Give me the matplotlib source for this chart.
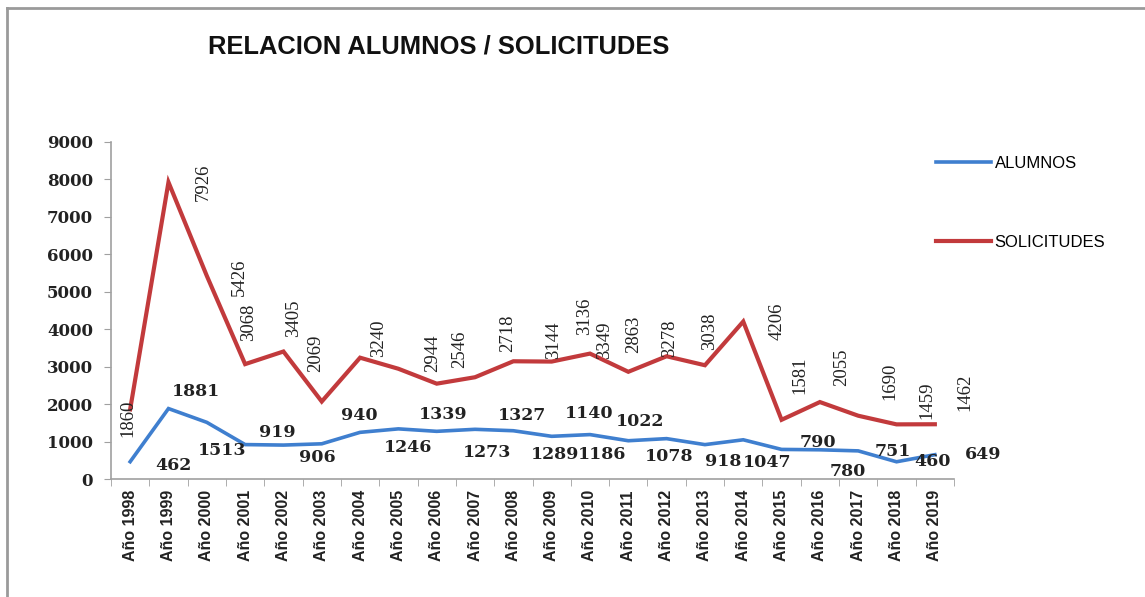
import numpy as np
import matplotlib
matplotlib.use("Agg")
import matplotlib.pyplot as plt
from matplotlib.lines import Line2D

years = list(range(1998, 2020))
tick_labels = ["Año %d" % y for y in years]
alumnos = [462, 1881, 1513, 919, 906, 940, 1246, 1339, 1273, 1327, 1289,
           1140, 1186, 1022, 1078, 918, 1047, 790, 780, 751, 460, 649]
solicitudes = [1860, 7926, 5426, 3068, 3405, 2069, 3240, 2944, 2546, 2718, 3144,
               3136, 3349, 2863, 3278, 3038, 4206, 1581, 2055, 1690, 1459, 1462]

# where each value label sits, in pixels from its point (as in the original sheet)
alu_off = [(43, -4), (28, 17), (15, -28), (32, 12), (34, -12), (38, 28), (48, -15),
           (45, 14), (50, -21), (47, 14), (42, -24), (38, 23), (12, -20), (12, 19),
           (3, -18), (18, -17), (24, -23), (36, 7), (28, -22), (35, -1), (36, 0), (48, 0)]
sol_off = [(-2, -9), (35, 0), (33, -1), (3, 42), (10, 33), (-6, 48), (18, 19),
           (34, 16), (23, 34), (33, 44), (40, 21), (33, 45), (15, 13), (5, 37),
           (3, 18), (5, 34), (34, 0), (18, 45), (22, 35), (32, 34), (30, 24), (30, 32)]

blue = "#3f7fcf"
red = "#c23a3c"
num_font = "DejaVu Serif"

fig = plt.figure(figsize=(11.45, 5.97), dpi=100)
ax = fig.add_axes([111/1145, 1-479/597, 843/1145, 337/597])

x = np.arange(len(years))
ax.plot(x, alumnos, color=blue, lw=2.6, label="ALUMNOS", solid_joinstyle="miter")
ax.plot(x, solicitudes, color=red, lw=3.0, label="SOLICITUDES", solid_joinstyle="miter")

for i, v in enumerate(alumnos):
    ax.annotate(str(v), (x[i], v), xytext=alu_off[i], textcoords="offset pixels",
                ha="center", va="center", fontsize=12.5, fontweight="bold",
                family=num_font, color="#222222")
for i, v in enumerate(solicitudes):
    ax.annotate(str(v), (x[i], v), xytext=sol_off[i], textcoords="offset pixels",
                ha="center", va="center", fontsize=13.5,
                family="Liberation Serif", color="#222222", rotation=90)

ax.set_xlim(-0.5, len(years) - 0.5)
ax.set_ylim(0, 9000)
ax.set_yticks(range(0, 9001, 1000))
ax.set_xticks(x)
ax.set_xticklabels(tick_labels, rotation=90, fontsize=11.5, fontweight="bold",
                   family="Liberation Sans", color="#222222")
ax.set_xticks(np.arange(-0.5, len(years), 1), minor=True)
ax.tick_params(axis="x", which="major", length=0, pad=8)
ax.tick_params(axis="x", which="minor", length=5, color="#a0a0a0", direction="out")
ax.tick_params(axis="y", length=5, color="#a0a0a0", pad=8)
for lab in ax.get_yticklabels():
    lab.set_family(num_font)
    lab.set_fontweight("bold")
    lab.set_fontsize(12)
    lab.set_color("#222222")
for s in ["top", "right"]:
    ax.spines[s].set_visible(False)
for s in ["left", "bottom"]:
    ax.spines[s].set_color("#a0a0a0")
    ax.spines[s].set_linewidth(1.2)

fig.text(439/1145, 1-47/597, "RELACION ALUMNOS / SOLICITUDES", ha="center", va="center",
         fontsize=18.4, fontweight="bold", family="Liberation Sans", color="#111111")

fig.legend(loc="upper left", bbox_to_anchor=(928/1145, 1-148/597), frameon=False,
           prop={"family": "Liberation Sans", "size": 12}, labelspacing=3.8,
           handlelength=3.3, handletextpad=0.2, borderpad=0)

# sheet frame
fig.add_artist(Line2D([7/1145, 7/1145], [0, 1-8/597], transform=fig.transFigure,
                      color="#9a9a9a", lw=2))
fig.add_artist(Line2D([7/1145, 1], [1-8/597, 1-8/597], transform=fig.transFigure,
                      color="#9a9a9a", lw=2))

fig.savefig("out.png", dpi=100)
